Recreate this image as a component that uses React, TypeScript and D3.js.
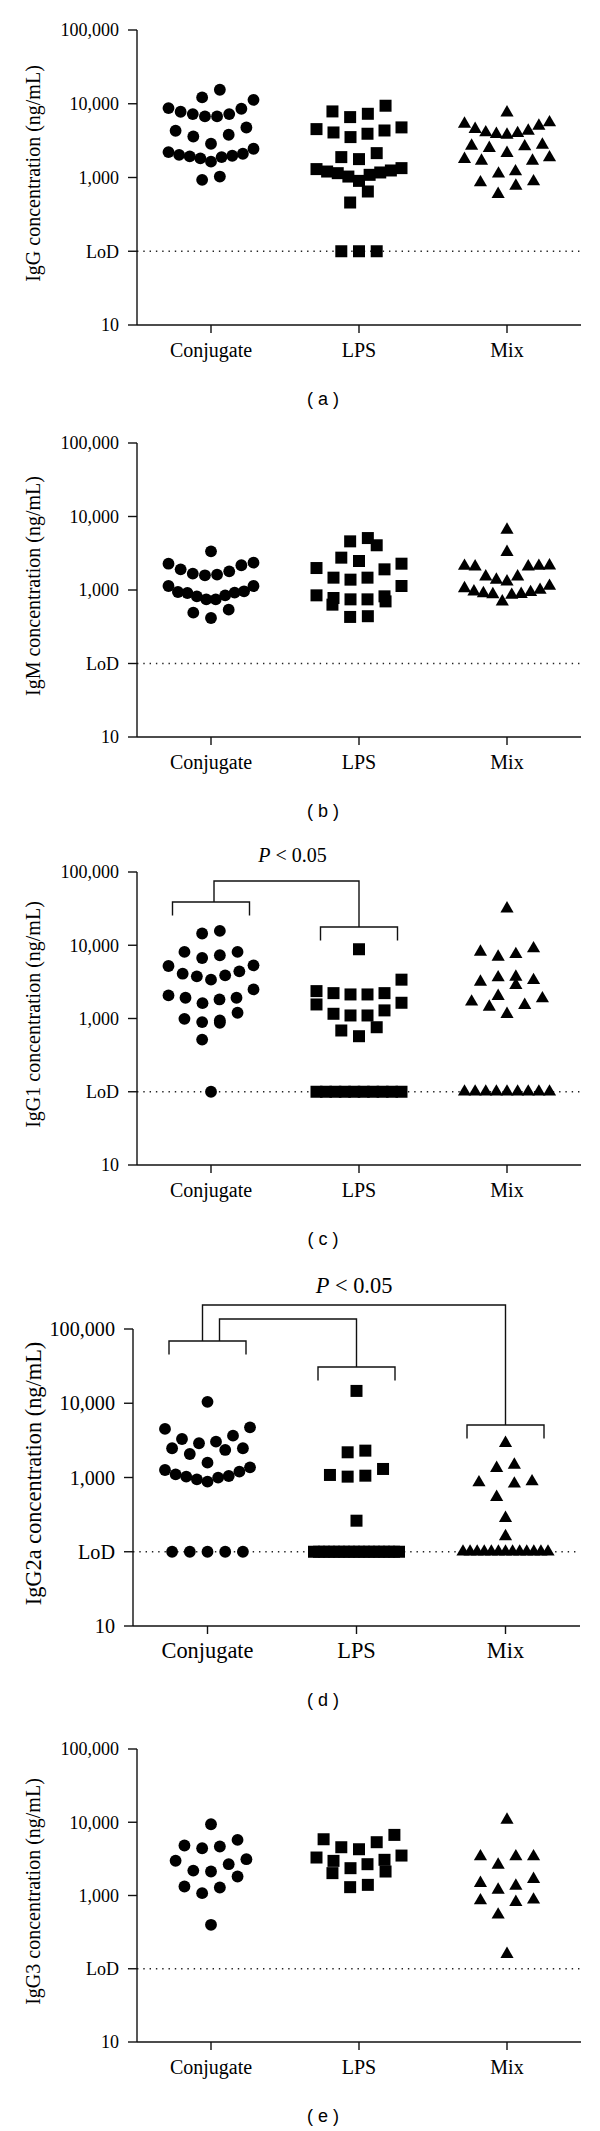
import * as React from 'react';
import * as d3 from 'd3';

const categories = ['Conjugate', 'LPS', 'Mix'];
const tickValues = [10, 100, 1000, 10000, 100000];
const tickLabels = ['10', 'LoD', '1,000', '10,000', '100,000'];
const LOD = 100;

// (a) IgG
const iggConjugate = [15500, 12200, 11300, 8550, 7240, 6730, 6730, 7240, 7790, 8730, 4770, 3800, 2870, 3600, 4300, 2210, 2030, 1930, 1815, 1640, 1890, 1970, 2100, 2455, 930, 1030];
const iggLps = [9400, 7310, 6590, 7870, 4530, 4080, 3530, 3920, 4340, 4780, 1890, 1775, 2140, 1340, 1300, 1245, 1205, 1170, 1145, 1087, 1030, 900, 646, 458, 100, 100, 100];
const iggMix = [7590, 5330, 4520, 4070, 3865, 3785, 3980, 4290, 5010, 5560, 2685, 2630, 2495, 2770, 1866, 1683, 2135, 1683, 1770, 1205, 1122, 855, 771, 883, 594];

// (b) IgM
const igmConjugate = [3360, 2280, 1910, 1667, 1585, 1620, 1795, 2170, 2356, 960, 920, 846, 746, 746, 820, 910, 940, 1133, 1133, 540, 416, 492];
const igmLps = [4590, 5090, 4060, 2755, 2480, 1990, 1910, 2280, 1472, 1383, 1472, 1133, 746, 632, 820, 778, 846, 700, 746, 430, 440];
const igmMix = [6580, 3270, 2120, 2080, 1520, 1370, 1300, 1520, 2080, 2120, 2145, 1134, 1000, 930, 873, 694, 855, 900, 950, 1050, 880];

// (c) IgG1
const igg1Conjugate = [14450, 15700, 8110, 7300, 6700, 8110, 5320, 4400, 3880, 3390, 3760, 4090, 5210, 2495, 1918, 1820, 1620, 1918, 2065, 1197, 873, 940, 893, 990, 515, 100];
const igg1Lps = [8820, 3390, 2220, 2130, 2130, 2220, 2365, 1555, 1640, 1160, 1100, 1100, 1290, 686, 573, 760, 100, 100, 100, 100, 100, 100, 100, 100, 100, 100];
const igg1Mix = [31600, 8110, 6935, 7540, 9010, 3160, 3700, 2850, 3630, 3330, 1690, 1440, 2020, 1520, 1875, 1145, 100, 100, 100, 100, 100, 100, 100, 100, 100];

// (d) IgG2a
const igg2aConjugate = [10450, 4510, 3660, 4740, 3300, 2890, 2475, 2075, 2350, 2475, 3040, 1585, 1370, 1262, 1103, 1027, 944, 879, 995, 1047, 1199, 100, 100, 100, 100, 100];
const igg2aLps = [14660, 2300, 2185, 1303, 1082, 1027, 1058, 262, 100, 100, 100, 100, 100, 100, 100, 100, 100, 100, 100, 100, 100, 100, 100, 100, 100, 100];
const igg2aMix = [2900, 1480, 1336, 857, 822, 884, 544, 284, 161, 100, 100, 100, 100, 100, 100, 100, 100, 100, 100, 100, 100, 100];

// (e) IgG3
const igg3Conjugate = [9400, 5740, 4660, 4420, 4810, 3130, 2675, 2125, 2190, 2980, 1815, 1285, 1077, 1327, 398];
const igg3Lps = [6720, 5340, 4280, 4560, 5860, 3510, 3070, 2675, 2360, 2970, 3300, 2020, 2125, 1300, 1397];
const igg3Mix = [10770, 3400, 3400, 3400, 2620, 1474, 1195, 1355, 1670, 873, 811, 855, 545, 158];

const panels = [
  {letter: 'a', title: 'IgG concentration (ng/mL)', groups: [iggConjugate, iggLps, iggMix], top: 30, bottom: 325, left: 137, right: 581, k: 1},
  {letter: 'b', title: 'IgM concentration (ng/mL)', groups: [igmConjugate, igmLps, igmMix], top: 443, bottom: 737, left: 137, right: 581, k: 1},
  {
    letter: 'c', title: 'IgG1 concentration (ng/mL)', groups: [igg1Conjugate, igg1Lps, igg1Mix], top: 872, bottom: 1165, left: 137, right: 581, k: 1,
    brackets: [{cat: 0, dy: 30}, {cat: 1, dy: 55}],
    links: [{from: 0, fdx: 3, to: 1, tdx: 0, dy: 9, fy: 30, ty: 55}],
    label: {dy: -10, dx: 6}
  },
  {
    letter: 'd', title: 'IgG2a concentration (ng/mL)', groups: [igg2aConjugate, igg2aLps, igg2aMix], top: 1329, bottom: 1626, left: 133, right: 580, k: 1.12,
    brackets: [{cat: 0, dy: 12}, {cat: 1, dy: 38}, {cat: 2, dy: 96}],
    links: [
      {from: 0, fdx: -5, to: 2, tdx: 0, dy: -24, fy: 12, ty: 96},
      {from: 0, fdx: 12, to: 1, tdx: 0, dy: -10, fy: 12, ty: 38}
    ],
    label: {dy: -36, dx: 0, outer: true}
  },
  {letter: 'e', title: 'IgG3 concentration (ng/mL)', groups: [igg3Conjugate, igg3Lps, igg3Mix], top: 1749, bottom: 2042, left: 137, right: 581, k: 1}
];

const ROW_H = 17;
const MAX_STEP = 17.7;
const MAX_SPREAD = 85;

const symbols = [
  d3.symbol().type(d3.symbolCircle).size(110)(),
  d3.symbol().type(d3.symbolSquare).size(144)(),
  d3.symbol().type(d3.symbolTriangle).size(75)()
];

// Prism-like scatter: bin points into rows, lowest value in the middle of a row
function layoutRows(values: number[], y: (v: number) => number) {
  const atLod = values.filter(v => v <= LOD);
  const above = values.filter(v => v > LOD).sort((a, b) => a - b);
  const rows: number[][] = [];
  if (atLod.length) rows.push(atLod);
  let row: number[] = [];
  let y0 = 0;
  above.forEach(v => {
    const py = y(v);
    if (row.length && y0 - py <= ROW_H) {
      row.push(v);
    } else {
      if (row.length) rows.push(row);
      row = [v];
      y0 = py;
    }
  });
  if (row.length) rows.push(row);

  const out: {v: number, dx: number}[] = [];
  rows.forEach(r => {
    const n = r.length;
    const step = n > 1 ? Math.min(MAX_STEP, MAX_SPREAD / (n - 1)) : 0;
    r.forEach((v, i) => {
      let slot;
      if (n % 2) slot = i === 0 ? 0 : (i % 2 ? -1 : 1) * Math.ceil(i / 2);
      else slot = (i % 2 ? 1 : -1) * (Math.floor(i / 2) + 0.5);
      out.push({v, dx: slot * step});
    });
  });
  return out;
}

function Panel({p}: {p: any}) {
  const y = d3.scaleLog().domain([10, 100000]).range([p.bottom, p.top]);
  const x = d3.scalePoint().domain(categories).range([p.left, p.right]).padding(0.5);
  const serif = 'Liberation Serif, Times New Roman, serif';
  const mid = (p.top + p.bottom) / 2;

  return (
    <g>
      {/* LoD dotted line */}
      <line x1={p.left} x2={p.right} y1={y(LOD)} y2={y(LOD)} stroke="#222" strokeWidth={1.4} strokeDasharray="1.4 4.9" />

      {p.groups.map((vals: number[], gi: number) => (
        <g key={gi}>
          {layoutRows(vals, y).map((d, i) => (
            <path key={i} d={symbols[gi]} fill="#000"
              transform={`translate(${x(categories[gi])! + d.dx},${y(d.v)})`} />
          ))}
        </g>
      ))}

      {/* axes */}
      <line x1={p.left} x2={p.left} y1={p.top} y2={p.bottom} stroke="#111" strokeWidth={1.4} />
      <line x1={p.left} x2={p.right} y1={p.bottom} y2={p.bottom} stroke="#111" strokeWidth={1.4} />
      {tickValues.map((t, i) => (
        <g key={t}>
          <line x1={p.left - 9} x2={p.left} y1={y(t)} y2={y(t)} stroke="#111" strokeWidth={1.4} />
          <text x={p.left - 18} y={y(t)} dy="0.35em" textAnchor="end" fontFamily={serif} fontSize={18 * p.k}>{tickLabels[i]}</text>
        </g>
      ))}
      {categories.map(c => (
        <g key={c}>
          <line x1={x(c)} x2={x(c)} y1={p.bottom} y2={p.bottom + 8} stroke="#111" strokeWidth={1.4} />
          <text x={x(c)} y={p.bottom + 32} textAnchor="middle" fontFamily={serif} fontSize={20 * p.k}>{c}</text>
        </g>
      ))}
      <text transform={`translate(33,${mid - 4}) rotate(-90)`} dy="0.35em" textAnchor="middle" fontFamily={serif} fontSize={20 * p.k}>{p.title}</text>
      <text x={323} y={p.bottom + 74} dy="0.35em" textAnchor="middle" fontFamily="Liberation Sans, Arial, sans-serif" fontSize={18}>{`( ${p.letter} )`}</text>

      {/* significance brackets */}
      {(p.brackets || []).map((b: any, i: number) => {
        const cx = x(categories[b.cat])!;
        const by = p.top + b.dy;
        return <path key={'b' + i} d={`M${cx - 38.5},${by + 13.5}V${by}H${cx + 38.5}V${by + 13.5}`} fill="none" stroke="#111" strokeWidth={1.4} />;
      })}
      {(p.links || []).map((l: any, i: number) => {
        const x0 = x(categories[l.from])! + l.fdx;
        const x1 = x(categories[l.to])! + l.tdx;
        const ly = p.top + l.dy;
        return <path key={'l' + i} d={`M${x0},${p.top + l.fy}V${ly}H${x1}V${p.top + l.ty}`} fill="none" stroke="#111" strokeWidth={1.4} />;
      })}
      {p.label && (() => {
        const l = p.links[0];
        const cx = (x(categories[l.from])! + l.fdx + x(categories[l.to])! + l.tdx) / 2 + p.label.dx;
        return (
          <text x={cx} y={p.top + p.label.dy} textAnchor="middle" fontFamily={serif} fontSize={20 * p.k}>
            <tspan fontStyle="italic">P</tspan> &lt; 0.05
          </text>
        );
      })()}
    </g>
  );
}

export default function App() {
  return (
    <svg width={600} height={2131} style={{position: 'absolute', left: 0, top: 0, background: '#fff'}}>
      <rect width={600} height={2131} fill="#fff" />
      {panels.map(p => <Panel key={p.letter} p={p} />)}
    </svg>
  );
}
